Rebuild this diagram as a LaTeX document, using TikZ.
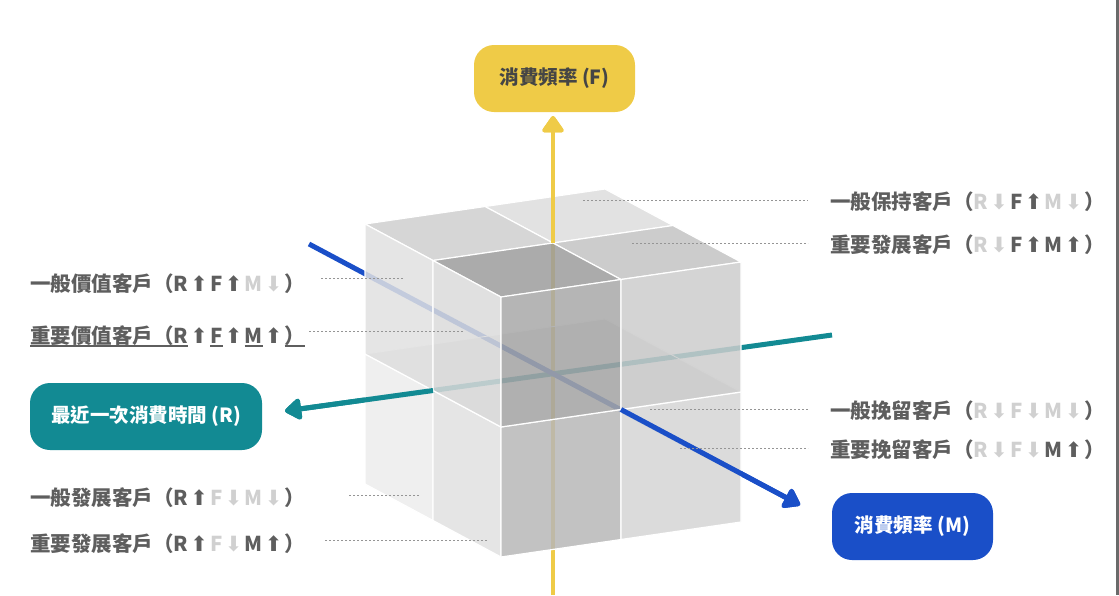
\documentclass[tikz,border=0pt]{standalone}
\usepackage{fontspec}
\setmainfont{Noto Sans CJK TC}
\newfontfamily\arrowfont{DejaVu Sans}
\usetikzlibrary{arrows.meta, calc}
\definecolor{ffill}{HTML}{EFCB47}
\definecolor{rfill}{HTML}{128A93}
\definecolor{mfill}{HTML}{1A4FC8}
\definecolor{labtext}{HTML}{5E5E5E}
\definecolor{labdim}{HTML}{D0D0D0}
\definecolor{leader}{HTML}{959595}
\definecolor{pilltext}{HTML}{454545}
\definecolor{edgestrip}{HTML}{6A6A6A}
\definecolor{topback}{gray}{0.866}
\definecolor{topleft}{gray}{0.812}
\definecolor{topright}{gray}{0.765}
\definecolor{topfront}{gray}{0.612}
\definecolor{lfleftup}{gray}{0.882}
\definecolor{lffrontup}{gray}{0.859}
\definecolor{lfleftdn}{gray}{0.924}
\definecolor{lffrontdn}{gray}{0.882}
\definecolor{rffrontup}{gray}{0.659}
\definecolor{rfrightup}{gray}{0.80}
\definecolor{rffrontdn}{gray}{0.718}
\definecolor{rfrightdn}{gray}{0.835}
\newcommand\uparr{\kern2.2pt{\arrowfont\mdseries\fontsize{21}{21}\selectfont ⬆}\kern2.2pt}
\newcommand\dnarr{\kern2.2pt{\arrowfont\mdseries\fontsize{21}{21}\selectfont ⬇}\kern2.2pt}
\newcommand\hi[1]{{\color{labtext}#1\uparr}}
\newcommand\lo[1]{{\color{labdim}#1\dnarr}}
\newcommand\ul[1]{\setbox0\hbox{#1}\rlap{\rule[-3.5pt]{\wd0}{1.6pt}}\box0}
\newcommand\hiul[1]{{\color{labtext}\ul{#1}\uparr}}
\tikzset{
  pill/.style    = {rectangle, rounded corners=20pt, minimum height=67pt, inner sep=0pt,
                    font=\fontsize{19.5}{22}\selectfont\bfseries},
  seglbl/.style  = {inner sep=0pt, text=labtext, font=\fontsize{20.5}{24}\selectfont\bfseries},
  axisline/.style= {line width=5pt, -{Triangle[length=18pt,width=24pt,round]}},
  lead/.style    = {draw=leader, line width=1pt, dash pattern=on 2.4pt off 1.6pt},
  face/.style    = {draw=white, line width=1.2pt, fill opacity=0.85, line join=round},
  midplane/.style= {fill=black, fill opacity=0.12, draw=white, line width=0.8pt},
}
\begin{document}
\begin{tikzpicture}[x=1pt, y=-1pt]
  \useasboundingbox (0,0) rectangle (1119,595);
  \fill[edgestrip] (1116,0) rectangle (1119,595);

  \coordinate (fbase) at (553,595);
  \coordinate (ftip) at (553,116);
  \coordinate (rstart) at (832,335);
  \coordinate (rtip) at (285,411);
  \coordinate (mstart) at (309,244);
  \coordinate (mtip) at (800,505);
  \coordinate (corner) at (501,557);

  \draw[axisline, draw=ffill, fill=ffill, line width=4pt] (fbase) -- (ftip);
  \draw[axisline, draw=rfill, fill=rfill] (rstart) -- (rtip);
  \draw[axisline, draw=mfill, fill=mfill] (mstart) -- (mtip);

  \begin{scope}[shift={(corner)}, x={(120pt,17.5pt)}, y={(-68pt,36.5pt)}, z={(0pt,130pt)}]
    \filldraw[midplane] (0,0,1) -- (2,0,1) -- (2,2,1) -- (0,2,1) -- cycle;
    \foreach \i/\j/\c in {1/1/topback, 0/1/topleft, 1/0/topright, 0/0/topfront}
      \filldraw[face, fill=\c] (\i,\j,2) -- ++(1,0,0) -- ++(0,1,0) -- ++(-1,0,0) -- cycle;
    \foreach \j/\k/\c in {1/0/lfleftdn, 0/0/lffrontdn, 1/1/lfleftup, 0/1/lffrontup}
      \filldraw[face, fill=\c] (0,\j,\k) -- ++(0,1,0) -- ++(0,0,1) -- ++(0,-1,0) -- cycle;
    \foreach \i/\k/\c in {0/0/rffrontdn, 1/0/rfrightdn, 0/1/rffrontup, 1/1/rfrightup}
      \filldraw[face, fill=\c] (\i,0,\k) -- ++(1,0,0) -- ++(0,0,1) -- ++(-1,0,0) -- cycle;
    \coordinate (ctop) at (1,1,2);
    \coordinate (cleft) at (0,1,1);
    \coordinate (cfront) at (1,0,1);
  \end{scope}

  \draw[axisline, draw=ffill, fill=ffill, line width=4pt] (ctop) -- (ftip);
  \draw[axisline, draw=rfill, fill=rfill] (cleft) -- (rtip);
  \draw[axisline, draw=mfill, fill=mfill] (cfront) -- (mtip);

  \node[pill, fill=ffill, text=pilltext, minimum width=161pt] (nF) at (554.5,78.5) {消費頻率 (F)};
  \node[pill, fill=rfill, text=white, minimum width=232pt] (nR) at (146,416.5) {最近一次消費時間 (R)};
  \node[pill, fill=mfill, text=white, minimum width=161pt] (nM) at (912.5,526.5) {消費頻率 (M)};

  \node[seglbl, anchor=west] (l1) at (830,202) {一般保持客戶（\lo{R}\hi{F}\lo{M}）};
  \node[seglbl, anchor=west] (l2) at (830,245) {重要發展客戶（\lo{R}\hi{F}\hi{M}）};
  \node[seglbl, anchor=west] (l3) at (30,284) {一般價值客戶（\hi{R}\hi{F}\lo{M}）};
  \node[seglbl, anchor=west] (l4) at (30,336) {\ul{重要價值客戶（}\hiul{R}\hiul{F}\hiul{M}\ul{）}};
  \node[seglbl, anchor=west] (l5) at (830,411) {一般挽留客戶（\lo{R}\lo{F}\lo{M}）};
  \node[seglbl, anchor=west] (l6) at (830,450) {重要挽留客戶（\lo{R}\lo{F}\hi{M}）};
  \node[seglbl, anchor=west] (l7) at (30,498) {一般發展客戶（\hi{R}\lo{F}\lo{M}）};
  \node[seglbl, anchor=west] (l8) at (30,544) {重要發展客戶（\hi{R}\lo{F}\hi{M}）};

  \coordinate (d1) at (583,200);
  \coordinate (d2) at (632,243);
  \coordinate (d3) at (403,278);
  \coordinate (d4) at (463,331);
  \coordinate (d5) at (650,409);
  \coordinate (d6) at (680,448);
  \coordinate (d7) at (419,495);
  \coordinate (d8) at (487,540);
  \foreach \n in {1,2,5,6}{\draw[lead, shorten >=22pt] (d\n) -- (d\n -| l\n.west);}
  \foreach \n/\s in {3/16pt,4/3pt,7/43pt,8/18pt}{\draw[lead, shorten >=\s] (d\n) -- (d\n -| l\n.east);}
\end{tikzpicture}
\end{document}
